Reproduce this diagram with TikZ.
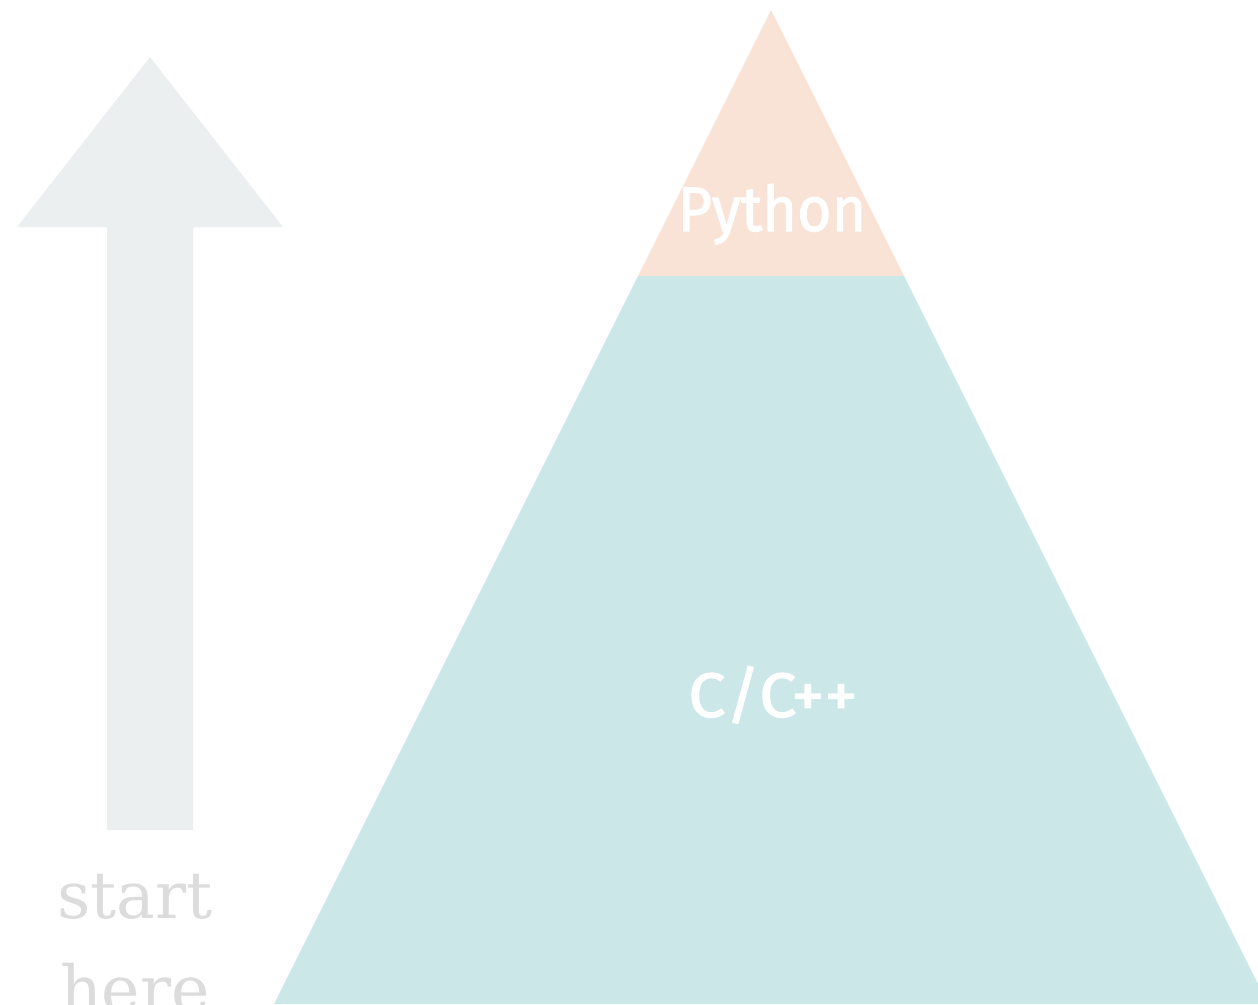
\documentclass[tikz,border=0pt]{standalone}
\usepackage{fontspec}
\newfontfamily\labelfont[FakeBold=1.6]{Fira Sans}
\newfontfamily\hintfont{DejaVu Serif}
\definecolor{peach}{HTML}{F9E3D7}
\definecolor{teal}{HTML}{CBE7E7}
\definecolor{arrowgray}{HTML}{EBEFEF}
\definecolor{textgray}{HTML}{DCDCDC}
\tikzset{
  layerlabel/.style={text=white, font=\labelfont\fontsize{63}{63}\selectfont, anchor=base, inner sep=0pt},
  hintlabel/.style={text=textgray, font=\hintfont\fontsize{65}{65}\selectfont, anchor=base, inner sep=0pt}
}
\begin{document}
\begin{tikzpicture}[x=1pt, y=-1pt]
\useasboundingbox (0,0) rectangle (1258,1004);
\clip (0,0) rectangle (1258,1004);
% upward arrow
\fill[arrowgray] (150,57) -- (283,227) -- (193,227) -- (193,830) -- (107,830) -- (107,227) -- (17,227) -- cycle;
% pyramid: lower layer and tip
\fill[teal] (638,276) -- (904,276) -- (1268,1004) -- (274,1004) -- cycle;
\fill[peach] (771,10) -- (904,276) -- (638,276) -- cycle;
% labels
\node[layerlabel, xscale=0.94] (py) at (772,231) {Python};
\node[layerlabel, xscale=1.06] (cc) at (773,717) {C/C++};
\node[hintlabel] (start) at (135,918) {start};
\node[hintlabel] (here) at (135,1012) {here};
\end{tikzpicture}
\end{document}
